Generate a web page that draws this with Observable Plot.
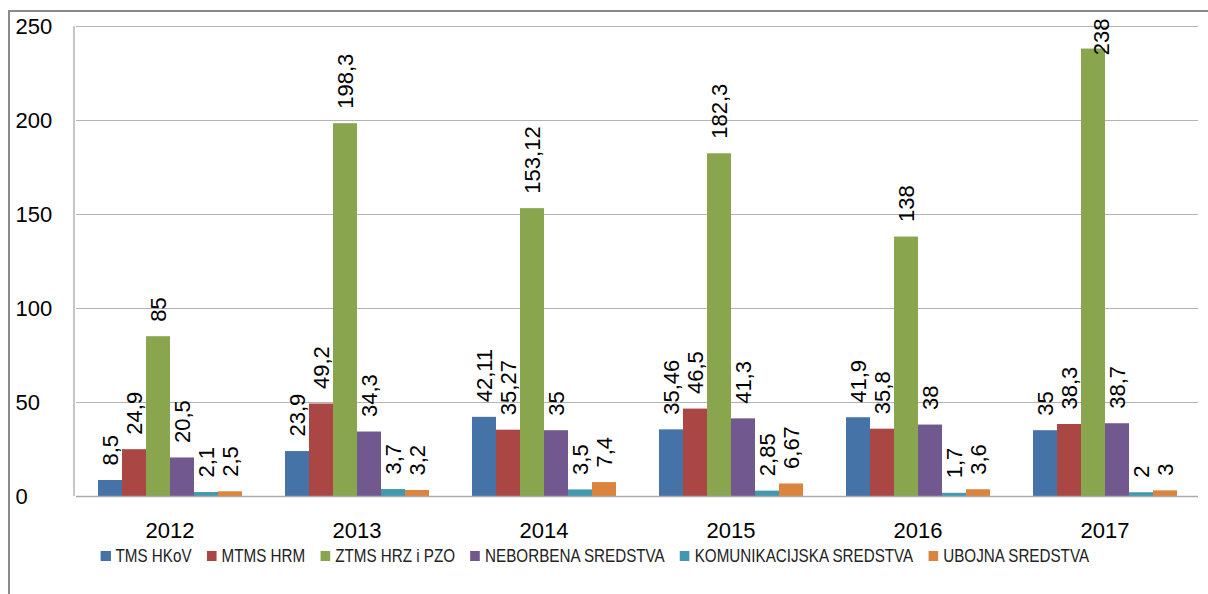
<!DOCTYPE html>
<html>
<head>
<meta charset="utf-8">
<script src="https://cdn.jsdelivr.net/npm/d3@7"></script>
<script src="https://cdn.jsdelivr.net/npm/@observablehq/plot@0.6"></script>
<style>
  html, body { margin: 0; padding: 0; background: #fff; }
  #wrap { position: relative; width: 1208px; height: 594px; overflow: hidden; }
  #border { position: absolute; left: 8px; top: 10px; width: 1400px; height: 800px;
            border-left: 2px solid #8a8a8a; border-top: 2px solid #8a8a8a; }
  #chart { position: absolute; left: 0; top: 0; }
  #legend { position: absolute; left: 0; top: 546px; width: 1190px; display: flex; justify-content: center; }
  #legend .inner { display: flex; align-items: center; white-space: nowrap; transform: scaleX(0.8); transform-origin: center;
                   font-family: "Liberation Sans", sans-serif; font-size: 19px; line-height: 20px; color: #222; }
  #legend .item { display: flex; align-items: center; margin-right: 18.75px; }
  #legend .item:last-child { margin-right: 0; }
  #legend .sw { display: inline-block; width: 12.5px; height: 10px; margin-right: 6.25px; }
</style>
</head>
<body>
<div id="wrap">
  <div id="border"></div>
  <div id="chart"></div>
  <div id="legend"><div class="inner"></div></div>
</div>
<script>
const years = ["2012", "2013", "2014", "2015", "2016", "2017"];
const series = ["TMS HKoV", "MTMS HRM", "ZTMS HRZ i PZO", "NEBORBENA SREDSTVA", "KOMUNIKACIJSKA SREDSTVA", "UBOJNA SREDSTVA"];
const colors = ["#4572A7", "#AA4643", "#89A54E", "#71588F", "#4198AF", "#DB843D"];
const tmsHKoV   = [8.5, 23.9, 42.11, 35.46, 41.9, 35];
const mtmsHRM   = [24.9, 49.2, 35.27, 46.5, 35.8, 38.3];
const ztmsHRZ   = [85, 198.3, 153.12, 182.3, 138, 238];
const neborbena = [20.5, 34.3, 35, 41.3, 38, 38.7];
const komunik   = [2.1, 3.7, 3.5, 2.85, 1.7, 2];
const ubojna    = [2.5, 3.2, 7.4, 6.67, 3.6, 3];
const yTicks = [0, 50, 100, 150, 200, 250];

const valueLists = [tmsHKoV, mtmsHRM, ztmsHRZ, neborbena, komunik, ubojna];
const data = [];
years.forEach((yr, i) => series.forEach((s, j) => data.push({year: yr, series: s, value: valueLists[j][i]})));
const fmt = v => String(v).replace(".", ",");
// labels that would not fit above their bar are pinned to the top of the plot area (as Excel does)
const yMax = d3.max(yTicks);
const fits = d => d.value < yMax * 0.88;

const font = "'Liberation Sans', 'Noto Sans', sans-serif";
const plot = Plot.plot({
  width: 1208,
  height: 540,
  marginLeft: 74,
  marginRight: 8,
  marginTop: 26,
  marginBottom: 44,
  style: {fontFamily: font, color: "#000", background: "transparent", overflow: "visible"},
  fx: {domain: years, padding: 0, label: null},
  x: {domain: series, paddingInner: 0, paddingOuter: 0.75, axis: null},
  y: {domain: [0, yMax], label: null, axis: null},
  color: {domain: series, range: colors},
  marks: [
    Plot.gridY(yTicks, {stroke: "#b3b3b3", strokeOpacity: 1, strokeWidth: 1}),
    Plot.barY(data, {fx: "year", x: "series", y: "value", fill: "series"}),
    Plot.ruleY([0], {stroke: "#ababab", strokeWidth: 1.5}),
    Plot.text(data.filter(fits), {fx: "year", x: "series", y: "value", text: d => fmt(d.value),
      rotate: -90, textAnchor: "start", dy: -15, fontSize: 22, fill: "#000"}),
    Plot.text(data.filter(d => !fits(d)), {fx: "year", x: "series", frameAnchor: "top", text: d => fmt(d.value),
      rotate: -90, textAnchor: "end", dy: -8, fontSize: 22, fill: "#000"}),
    Plot.axisY({ticks: yTicks, tickSize: 0, tickPadding: 0, textAnchor: "start", dx: -61, fontSize: 22, label: null}),
    Plot.axisFx({anchor: "bottom", tickSize: 0, tickPadding: 26, fontSize: 22, label: null})
  ]
});
// left vertical axis line of the plot area
const ys = plot.scale("y");
d3.select(plot).append("line")
  .attr("x1", 74).attr("x2", 74)
  .attr("y1", ys.range[0]).attr("y2", ys.range[1])
  .attr("stroke", "#b3b3b3").attr("stroke-width", 1.5);
document.getElementById("chart").appendChild(plot);

// legend built from the plot's color scale
const cs = plot.scale("color");
const inner = d3.select("#legend .inner");
cs.domain.forEach(s => {
  const item = inner.append("div").attr("class", "item");
  item.append("span").attr("class", "sw").style("background", cs.apply(s));
  item.append("span").text(s);
});
</script>
</body>
</html>
